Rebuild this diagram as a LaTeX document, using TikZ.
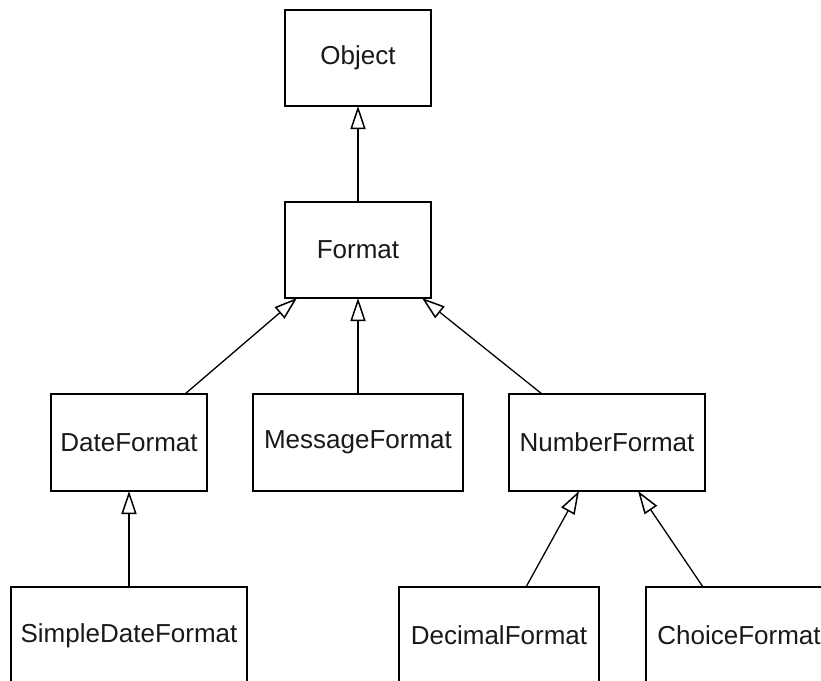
\documentclass[tikz,border=0pt]{standalone}
\usepackage{fontspec}
\setmainfont{Liberation Sans}
\usetikzlibrary{arrows.meta}
\begin{document}
\begin{tikzpicture}[x=1pt,y=-1pt,
  classbox/.style={draw, line width=1.8pt, inner sep=0pt, outer sep=0pt,
    minimum height=97pt, font=\fontsize{26}{31}\selectfont, text=black!90},
  inherit/.style={line width=1.9pt, -{Triangle[open, length=23pt, width=15pt, line width=1.5pt]}},
  inheritdiag/.style={inherit, line width=1.3pt}]
  \useasboundingbox (0,0) rectangle (821,680);

  % class boxes
  \node[classbox, minimum width=146pt, minimum height=96pt] (obj) at (358,58) {Object};
  \node[classbox, minimum width=146pt, minimum height=96pt] (fmt) at (358,250) {Format};
  \node[classbox, minimum width=156pt] (df)  at (129,442.5) {DateFormat};
  \node[classbox, minimum width=210pt] (msg) at (358,442.5) {MessageFormat};
  \node[classbox, minimum width=196pt] (nf)  at (607,442.5) {NumberFormat};
  \node[classbox, minimum width=236pt] (sdf) at (129,635.5) {SimpleDateFormat};
  \node[classbox, minimum width=200pt] (dec) at (499,635.5) {DecimalFormat};
  \node[classbox, minimum width=186pt] (cho) at (739,635.5) {ChoiceFormat};

  % generalisation arrows
  \draw[inherit] (fmt.north) -- (obj.south);
  \draw[inheritdiag] ([xshift=56pt]df.north) -- ([xshift=-61pt]fmt.south);
  \draw[inherit] (msg.north) -- (msg.north |- fmt.south);
  \draw[inheritdiag] ([xshift=-65pt]nf.north) -- ([xshift=64pt]fmt.south);
  \draw[inherit] (sdf.north) -- (df.south);
  \draw[inheritdiag] ([xshift=27pt]dec.north) -- ([xshift=-28pt]nf.south);
  \draw[inheritdiag] ([xshift=-36pt]cho.north) -- ([xshift=31pt]nf.south);
\end{tikzpicture}
\end{document}
